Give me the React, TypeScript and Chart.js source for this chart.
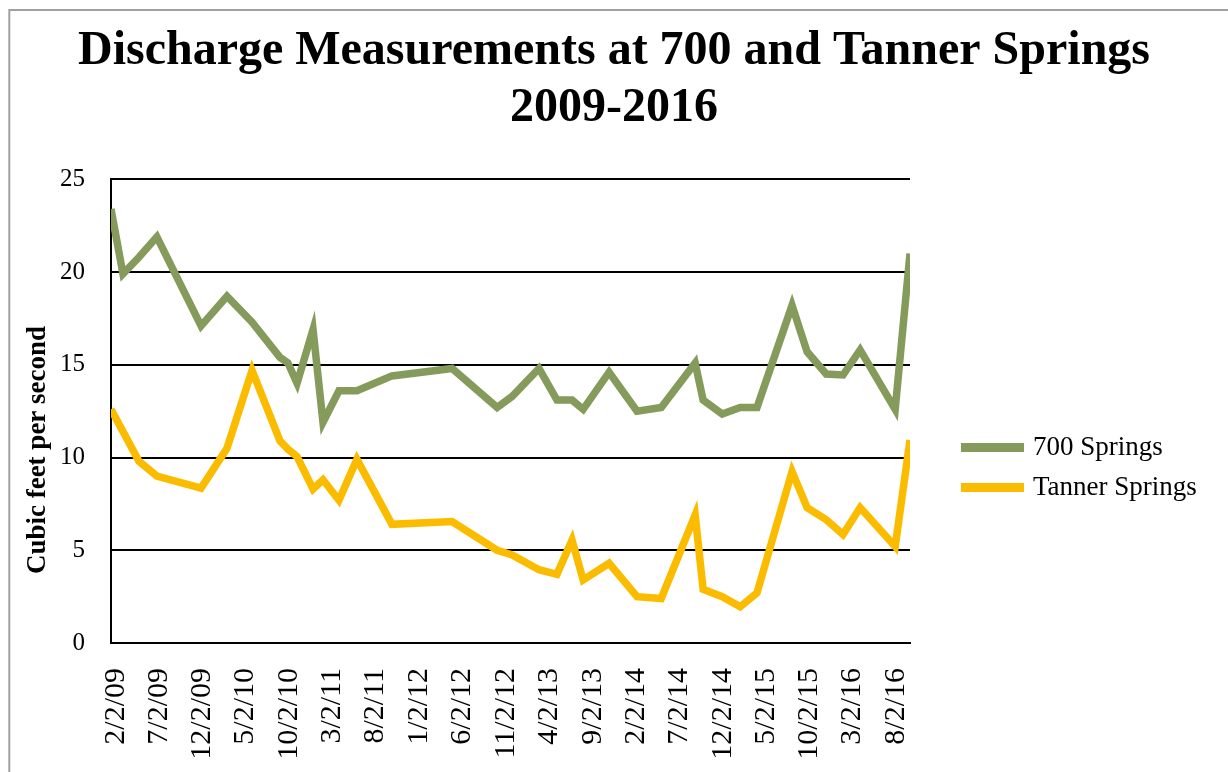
import React, { useEffect, useRef } from 'react';
import { Chart, registerables } from 'chart.js';

Chart.register(...registerables);

// ---- data ----
const MEASUREMENT_DATES = [
  '2009-02-02', '2009-03-16', '2009-05-11', '2009-07-13', '2009-12-15',
  '2010-03-16', '2010-06-12', '2010-09-18', '2010-10-16', '2010-11-17',
  '2011-01-12', '2011-02-16', '2011-04-13', '2011-06-15', '2011-10-16',
  '2012-05-14', '2012-10-19', '2012-12-11', '2013-03-15', '2013-05-17',
  '2013-07-09', '2013-08-17', '2013-11-16', '2014-02-22', '2014-05-18',
  '2014-09-14', '2014-10-12', '2014-12-18', '2015-02-19', '2015-04-19',
  '2015-08-20', '2015-10-12', '2015-12-18', '2016-02-15', '2016-04-15',
  '2016-08-16', '2016-10-07',
];

const SPRINGS_700 = [
  23.4, 19.9, 20.8, 21.9, 17.1,
  18.7, 17.3, 15.4, 15.1, 14.0,
  16.9, 11.9, 13.6, 13.6, 14.4,
  14.8, 12.7, 13.3, 14.8, 13.1,
  13.1, 12.6, 14.6, 12.5, 12.7,
  15.1, 13.1, 12.35, 12.7, 12.7,
  18.2, 15.7, 14.5, 14.45, 15.8,
  12.6, 21.0,
];

const TANNER_SPRINGS = [
  12.6, 11.4, 9.8, 9.0, 8.35,
  10.5, 14.7, 10.9, 10.45, 10.05,
  8.3, 8.8, 7.7, 9.9, 6.4,
  6.55, 5.0, 4.75, 3.95, 3.7,
  5.55, 3.4, 4.3, 2.5, 2.4,
  6.9, 2.9, 2.5, 1.95, 2.7,
  9.25, 7.3, 6.65, 5.85, 7.3,
  5.2, 10.95,
];

const X_TICK_LABELS = [
  '2/2/09', '7/2/09', '12/2/09', '5/2/10', '10/2/10', '3/2/11', '8/2/11',
  '1/2/12', '6/2/12', '11/2/12', '4/2/13', '9/2/13', '2/2/14', '7/2/14',
  '12/2/14', '5/2/15', '10/2/15', '3/2/16', '8/2/16',
];

const Y_MIN = 0;
const Y_MAX = 25;
const Y_STEP = 5;

const SERIES_NAMES = ['700 Springs', 'Tanner Springs'];
const SERIES_COLORS = ['#849B5C', '#FBBC00'];
const TITLE_LINES = ['Discharge Measurements at 700 and Tanner Springs', '2009-2016'];
const Y_TITLE = 'Cubic feet per second';

const FONT = "'Liberation Serif', 'Times New Roman', serif";

// ---- helpers ----
const DAY_MS = 86400000;
const ORIGIN = Date.UTC(2009, 1, 2);
const isoToDay = (s: string) => {
  const [y, m, d] = s.split('-').map(Number);
  return Math.round((Date.UTC(y, m - 1, d) - ORIGIN) / DAY_MS);
};
const mdyToDay = (s: string) => {
  const [m, d, y] = s.split('/').map(Number);
  return Math.round((Date.UTC(2000 + y, m - 1, d) - ORIGIN) / DAY_MS);
};

const TICK_VALUES = X_TICK_LABELS.map(mdyToDay);
const TICK_LABEL_BY_VALUE: Record<number, string> = {};
X_TICK_LABELS.forEach((l, i) => (TICK_LABEL_BY_VALUE[TICK_VALUES[i]] = l));

const frame = {
  id: 'frame',
  beforeDraw(chart: any) {
    const ctx = chart.ctx;
    ctx.save();
    ctx.fillStyle = '#ffffff';
    ctx.fillRect(0, 0, chart.width, chart.height);
    ctx.strokeStyle = '#a0a0a0';
    ctx.lineWidth = 2;
    ctx.strokeRect(9.3, 10, 3000, 3000);
    ctx.restore();
  },
  afterDraw(chart: any) {
    const ctx = chart.ctx;
    const area = chart.chartArea;
    ctx.save();
    // y-axis title
    ctx.translate(38, 450);
    ctx.rotate(-Math.PI / 2);
    ctx.font = `bold 27px ${FONT}`;
    ctx.fillStyle = '#000';
    ctx.textAlign = 'center';
    ctx.textBaseline = 'middle';
    ctx.fillText(Y_TITLE, 0, 0);
    ctx.restore();

    // legend
    ctx.save();
    ctx.font = `27px ${FONT}`;
    ctx.textBaseline = 'middle';
    ctx.textAlign = 'left';
    chart.data.datasets.forEach((ds: any, i: number) => {
      const y = 447.5 + i * 40;
      const x0 = area.right + 51;
      ctx.fillStyle = ds.borderColor;
      ctx.fillRect(x0, y - 4.5, 63, 9);
      ctx.fillStyle = '#000';
      ctx.fillText(ds.label, x0 + 72, y);
    });
    ctx.restore();
  },
};

export default function App() {
  const ref = useRef<HTMLCanvasElement>(null);

  useEffect(() => {
    if (!ref.current) return;
    const mk = (vals: number[]) =>
      MEASUREMENT_DATES.map((d, i) => ({ x: isoToDay(d), y: vals[i] }));
    const chart = new Chart(ref.current, {
      type: 'line',
      data: {
        datasets: [
          {
            label: SERIES_NAMES[0],
            data: mk(SPRINGS_700),
            borderColor: SERIES_COLORS[0],
            backgroundColor: SERIES_COLORS[0],
            borderWidth: 7.5,
            pointRadius: 0,
            tension: 0,
            fill: false,
          },
          {
            label: SERIES_NAMES[1],
            data: mk(TANNER_SPRINGS),
            borderColor: SERIES_COLORS[1],
            backgroundColor: SERIES_COLORS[1],
            borderWidth: 7.5,
            pointRadius: 0,
            tension: 0,
            fill: false,
          },
        ],
      },
      options: {
        animation: false,
        responsive: false,
        maintainAspectRatio: false,
        layout: { padding: 0 },
        plugins: {
          legend: { display: false },
          tooltip: { enabled: false },
          title: {
            display: true,
            text: TITLE_LINES,
            color: '#000',
            font: { family: FONT, size: 48, weight: 'bold', lineHeight: 1.17 },
            padding: { top: 24, bottom: 43 },
          },
        },
        scales: {
          x: {
            type: 'linear',
            min: 0,
            max: isoToDay(MEASUREMENT_DATES[MEASUREMENT_DATES.length - 1]),
            afterBuildTicks: (s: any) => {
              s.ticks = TICK_VALUES.map((v) => ({ value: v }));
            },
            afterFit: (s: any) => {
              s.height = 129;
            },
            grid: { display: false, drawTicks: false },
            border: { display: true, color: '#000', width: 2 },
            ticks: {
              autoSkip: false,
              minRotation: 90,
              maxRotation: 90,
              padding: 25,
              labelOffset: 5,
              color: '#000',
              font: { family: FONT, size: 30 },
              callback: (v: any) => TICK_LABEL_BY_VALUE[v as number] ?? '',
            },
          },
          y: {
            type: 'linear',
            position: 'left',
            min: Y_MIN,
            max: Y_MAX,
            afterFit: (s: any) => {
              s.width = 111;
            },
            grid: { color: '#000', lineWidth: 2, drawTicks: false },
            border: { display: true, color: '#000', width: 2 },
            ticks: {
              stepSize: Y_STEP,
              padding: 26,
              color: '#000',
              font: { family: FONT, size: 25 },
            },
          },
          legendSpace: {
            type: 'linear',
            position: 'right',
            display: true,
            min: Y_MIN,
            max: Y_MAX,
            afterFit: (s: any) => {
              s.width = 318;
            },
            grid: { display: false, drawTicks: false },
            border: { display: false },
            ticks: { display: false },
          },
        },
      },
      plugins: [frame],
    } as any);
    return () => chart.destroy();
  }, []);

  return (
    <div style={{ position: 'absolute', left: 0, top: 0, width: 1228, height: 772 }}>
      <canvas ref={ref} width={1228} height={772} style={{ display: 'block' }} />
    </div>
  );
}
